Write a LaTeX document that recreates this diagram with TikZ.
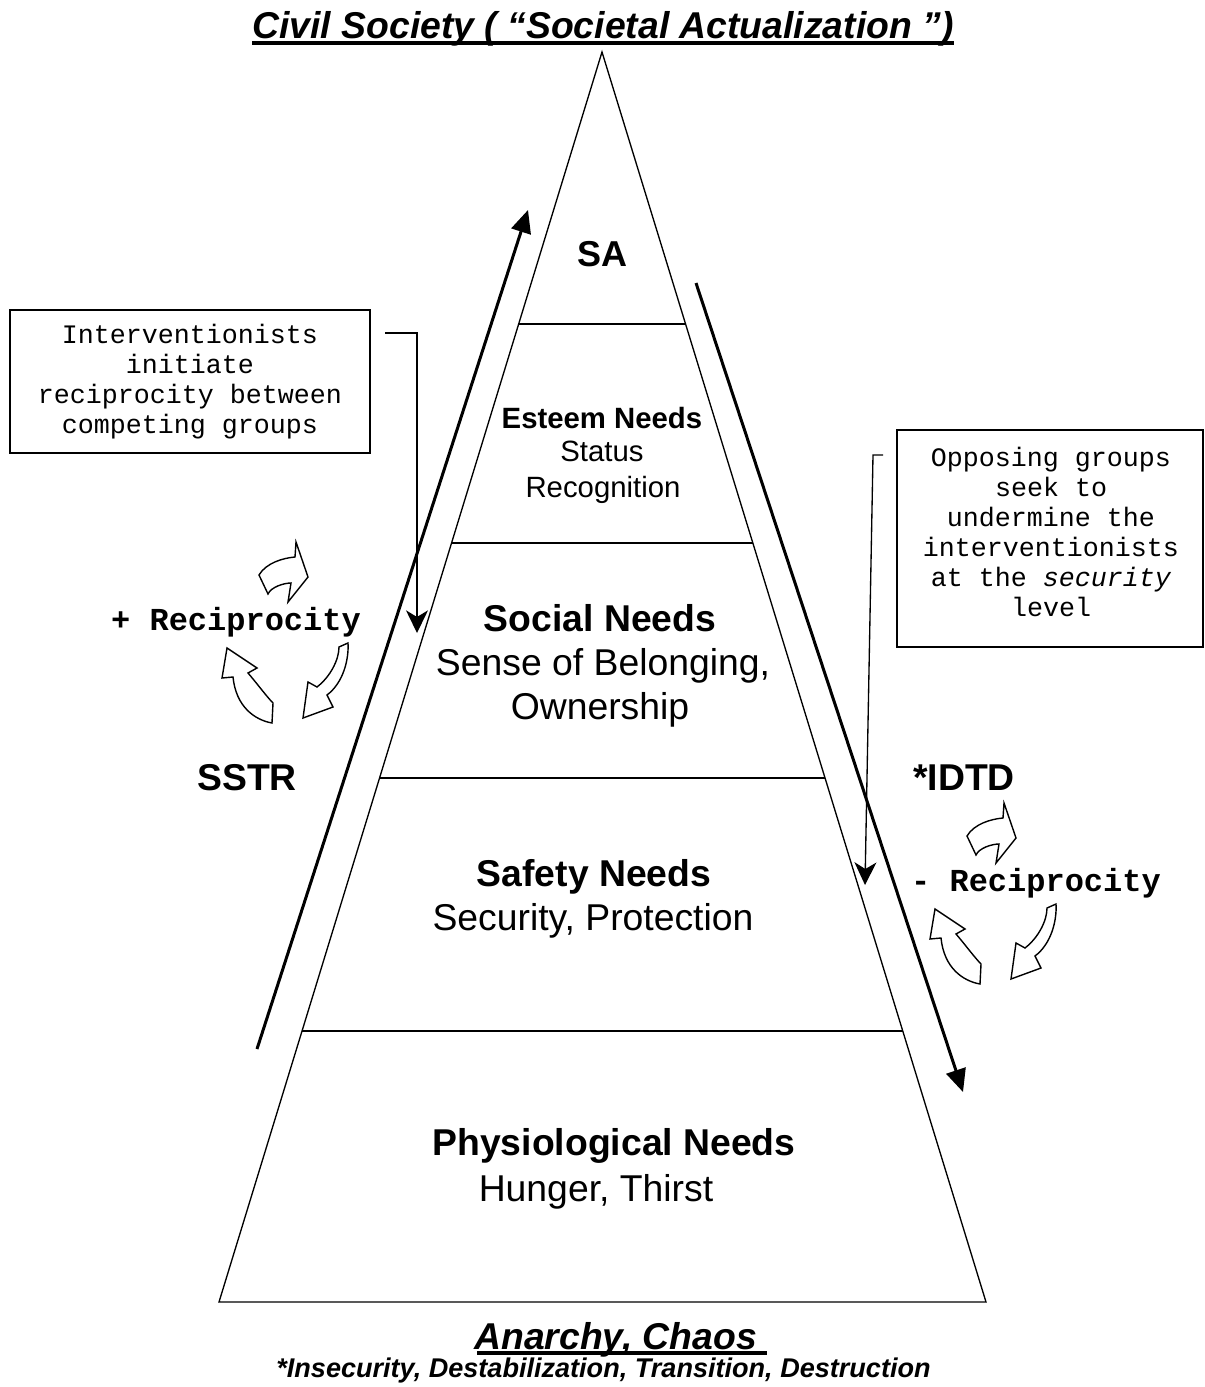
\documentclass[tikz,border=0pt]{standalone}
\usepackage{fontspec}
\setmainfont{Liberation Sans}
\setmonofont{Liberation Mono}
\usetikzlibrary{arrows.meta,calc}
\newcommand\reccycle{%
  \path[cyclearrow] (259,575) .. controls (266,563) and (283,558) .. (295,557) -- (296,542) -- (308,577) -- (288,602) -- (291,583) .. controls (284,583) and (271,587) .. (268,594) -- cycle;
  \path[cyclearrow] (348,643) .. controls (349,660) and (343,683) .. (327,695) -- (333,707) -- (303,718) -- (308,682) -- (317,687) .. controls (330,677) and (339,660) .. (339,647) -- cycle;
  \path[cyclearrow] (272,723) .. controls (255,720) and (236,707) .. (233,677) -- (222,678) -- (227,648) -- (257,668) -- (248,673) .. controls (255,681) and (267,697) .. (273,703) -- cycle;
}
\begin{document}
\begin{tikzpicture}[x=0.75pt,y=-0.75pt,
  edge/.style={line width=1pt},
  bigarrow/.style={line width=2.25pt,-{Triangle[length=17pt,width=15pt]}},
  pointer/.style={line width=1pt,-{Stealth[length=17pt,width=16.5pt,inset=5pt]}},
  boxframe/.style={draw,line width=1pt,inner sep=0pt},
  notetext/.style={align=center,font=\ttfamily\fontsize{20}{22.5}\selectfont,inner sep=0pt},
  recip/.style={font=\ttfamily\bfseries\fontsize{24}{26}\selectfont,anchor=base,inner sep=0pt},
  cyclearrow/.style={draw,line width=1.05pt,fill=white,line join=miter},
  lvl/.style={font=\fontsize{28}{30}\selectfont,anchor=base,inner sep=0pt},
  lvlb/.style={font=\bfseries\fontsize{28}{30}\selectfont,anchor=base,inner sep=0pt},
  small/.style={font=\fontsize{22}{24}\selectfont,anchor=base,inner sep=0pt},
  smallb/.style={font=\bfseries\fontsize{22}{24}\selectfont,anchor=base,inner sep=0pt},
  headline/.style={font=\bfseries\itshape\fontsize{28}{30}\selectfont,inner sep=0pt},
  uline/.style={line width=2.8pt}
]
\useasboundingbox (0,0) rectangle (1204,1387);
% pyramid
\coordinate (apex) at (602,52);
\coordinate (bl) at (219,1302);
\coordinate (br) at (986,1302);
\draw[edge,line join=miter] (apex) -- (bl) -- (br) -- cycle;
\foreach \t in {0.2176,0.3928,0.5808,0.7832}
  \draw[edge] ($(apex)!\t!(bl)$) -- ($(apex)!\t!(br)$);
% level texts
\node[lvlb,font=\bfseries\fontsize{27}{30}\selectfont] (sa) at (602,267) {SA};
\node[smallb] (est) at (602,428) {Esteem Needs};
\node[small] (status) at (602,461) {Status};
\node[small] (recog) at (603,497) {Recognition};
\node[lvlb] (social) at (600,631) {Social Needs};
\node[lvl] (sense) at (603,675) {Sense of Belonging,};
\node[lvl] (owner) at (600,719) {Ownership};
\node[lvlb] (safety) at (594,886) {Safety Needs};
\node[lvl] (secur) at (593,930) {Security, Protection};
\node[lvlb] (phys) at (614,1155) {Physiological Needs};
\node[lvl] (hunger) at (596,1201) {Hunger, Thirst};
\node[lvlb] (sstr) at (247,790) {SSTR};
\node[lvlb] (idtd) at (964,790) {*IDTD};
% titles
\node[headline,anchor=base] (title) at (603,39) {Civil Society ( “Societal Actualization ”)};
\draw[uline] ($(title.base west)+(0,4)$) -- ($(title.base east)+(0,4)$);
\node[headline,anchor=base west] (anarchy) at (474,1349) {Anarchy, Chaos};
\draw[uline] ($(anarchy.base west)+(3,4)$) -- ($(anarchy.base east)+(10,4)$);
\node[font=\bfseries\itshape\fontsize{20.3}{22}\selectfont,anchor=base,inner sep=0pt] (insec) at (603.5,1377) {*Insecurity, Destabilization, Transition, Destruction};
% big arrows
\coordinate (up0) at (257,1049);
\coordinate (up1) at (528,210);
\draw[bigarrow] (up0) -- (up1);
\coordinate (dn0) at (696,283);
\coordinate (dn1) at (963,1092);
\draw[bigarrow] (dn0) -- (dn1);
% boxes
\node[boxframe,minimum width=270pt,minimum height=107.25pt] (box1) at (190,381.5) {};
\node[notetext] (box1t) at (190,381.5) {Interventionists\\initiate\\reciprocity between\\competing groups};
\node[boxframe,minimum width=229.5pt,minimum height=162.75pt] (box2) at (1050,538.5) {};
\node[notetext] (box2t) at (1051,532) {Opposing groups\\seek to\\undermine the\\interventionists\\at the \textit{security}\\level};
% pointers
\coordinate (p1s) at (385,333);
\coordinate (p1c) at (417,333);
\coordinate (p1e) at (417,633);
\draw[pointer] (p1s) -- (p1c) -- (p1e);
\coordinate (p2s) at (883,455);
\coordinate (p2c) at (873,455);
\coordinate (p2e) at (865,885);
\draw[pointer] (p2s) -- (p2c) -- (p2e);
% reciprocity
\node[recip] (plusrec) at (236,630) {+ Reciprocity};
\node[recip] (minusrec) at (1036,891) {- Reciprocity};
\reccycle
\begin{scope}[shift={(708,261)}]
\reccycle
\end{scope}
\end{tikzpicture}
\end{document}
